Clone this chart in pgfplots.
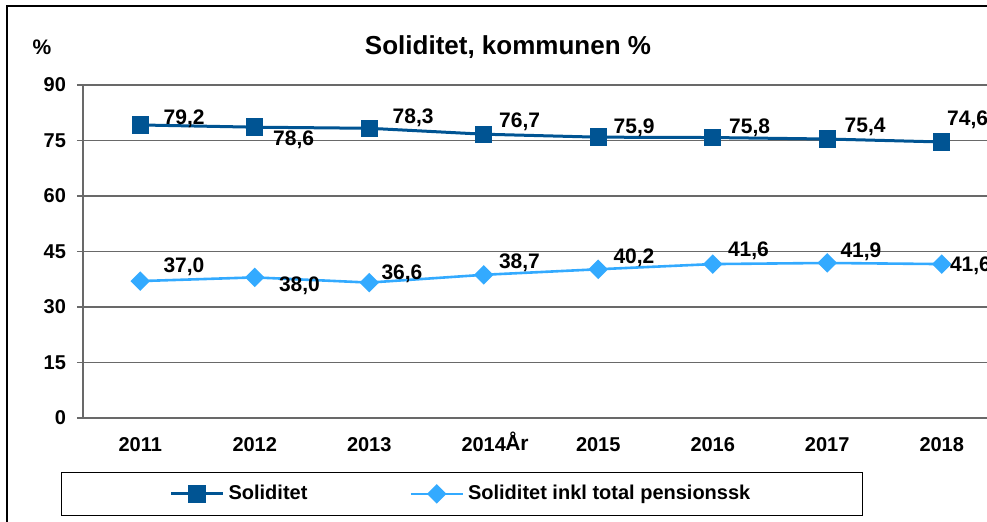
\documentclass[border=0pt]{standalone}
\usepackage{fontspec}
\setmainfont{Liberation Sans}
\usepackage{pgfplots}
\usepackage{pgfplotstable}
\pgfplotsset{compat=1.18}

\definecolor{sol}{RGB}{0,84,147}
\definecolor{solp}{RGB}{51,170,255}
\definecolor{gridc}{RGB}{105,105,105}

% x = year index, dx/dy = label offset (pt)
\pgfplotstableread{
x y dx dy
1 79.2 11 3
2 78.6 8.5 -6.5
3 78.3 11 5
4 76.7 7 6
5 75.9 7 4.5
6 75.8 7.5 5
7 75.4 8 6
8 74.6 2 11
}\soltab

\pgfplotstableread{
x y dx dy
1 37.0 11 7
2 38.0 11.5 -4
3 36.6 5.5 4.5
4 38.7 7 6
5 40.2 7 5.5
6 41.6 7 6.5
7 41.9 6 5.5
8 41.6 3.5 -1
}\pensiontab

\begin{document}
\begin{tikzpicture}[x=0.5pt,y=-0.5pt]
\tikzset{lab/.style={font=\bfseries\fontsize{10.5}{12}\selectfont}}
\draw[line width=0.8pt] (7,6) rectangle (1020,540);
\node[font=\bfseries\fontsize{13}{15}\selectfont] at (508,47) {Soliditet, kommunen \%};
\node[lab] at (42,47) {\%};
\begin{axis}[
    at={(41.5pt,-209pt)}, anchor=south west,
    scale only axis, width=458pt, height=166.5pt,
    xmin=0.5, xmax=8.5, ymin=0, ymax=90,
    ytick={0,15,...,90},
    xtick={1,...,8},
    xticklabels={2011,2012,2013,2014,2015,2016,2017,2018},
    xtick style={draw=none},
    extra x ticks={0.5,1.5,...,8.5},
    extra x tick labels={},
    extra x tick style={grid=none, major tick length=3pt, tick style={draw=gridc, line width=0.6pt}},
    axis lines=left,
    axis line style={-, draw=gridc, line width=1pt},
    tick align=outside,
    major tick length=3pt,
    ytick style={draw=gridc, line width=0.6pt},
    ymajorgrids,
    grid style={gridc, line width=0.6pt},
    tick label style={font=\bfseries\fontsize{10}{12}\selectfont},
    /pgf/number format/assume math mode=true,
    xticklabel style={yshift=-3pt},
    yticklabel style={xshift=-2pt},
    legend columns=2,
    legend cell align=left,
    legend style={at={(axis description cs:0.4137,-0.228)}, anchor=center,
        draw=black, line width=0.6pt, inner xsep=54pt, inner ysep=4.5pt,
        font=\bfseries\fontsize{10}{12}\selectfont,
        /tikz/every even column/.append style={column sep=49pt}},
    legend image code/.code={\draw[mark repeat=2,mark phase=2] plot coordinates {(0pt,0pt)(13pt,0pt)(26pt,0pt)};},
    nodes near coords={\pgfmathprintnumber[fixed,fixed zerofill,precision=1,use comma,assume math mode=true]{\pgfplotspointmeta}},
    nodes near coords style={black, anchor=west, inner sep=0pt, font=\bfseries\fontsize{10.5}{12}\selectfont, xshift=\dx pt, yshift=\dy pt},
    clip=false,
]
\addplot[sol, line width=1.5pt, mark=square*, mark size=3.6pt, mark options={solid},
    point meta=y,
    visualization depends on={\thisrow{dx} \as \dx},
    visualization depends on={\thisrow{dy} \as \dy}]
    table[x=x,y=y]{\soltab};
\addplot[solp, line width=1.3pt, mark=square*, mark size=2.8pt, mark options={solid, rotate=45},
    point meta=y,
    visualization depends on={\thisrow{dx} \as \dx},
    visualization depends on={\thisrow{dy} \as \dy}]
    table[x=x,y=y]{\pensiontab};
\legend{Soliditet, Soliditet inkl total pensionssk}
\end{axis}
\node[lab] at (517,441) {År};
\pgfresetboundingbox
\useasboundingbox (0,0) rectangle (987,522);
\end{tikzpicture}
\end{document}
